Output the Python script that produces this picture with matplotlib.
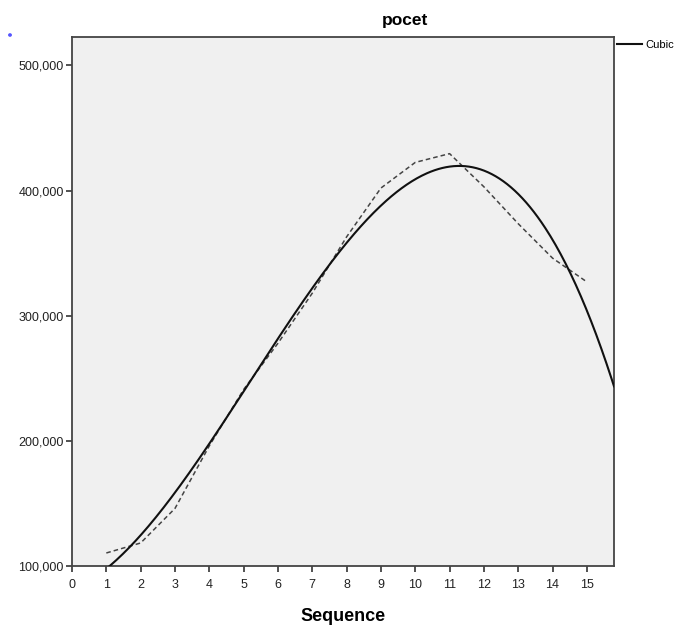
import numpy as np
import matplotlib
matplotlib.use("Agg")
import matplotlib.pyplot as plt
from matplotlib.ticker import FuncFormatter

plt.rcParams['font.family'] = ['Liberation Sans', 'DejaVu Sans']

# Observed data (Sequence vs pocet)
sequence = [1, 2, 3, 4, 5, 6, 7, 8, 9, 10, 11, 12, 13, 14, 15]
pocet = [110400, 118400, 146000, 196000, 241000, 278000, 318000, 363000,
         402000, 422500, 429500, 403000, 373500, 346000, 327000]
x_ticks = list(range(0, 16))
y_ticks = [100000, 200000, 300000, 400000, 500000]

x_max = 15.79
y_min, y_max = 100000, 522700

fig = plt.figure(figsize=(6.81, 6.26), dpi=100)
ax = fig.add_axes([72/681, 1-566/626, (614-72)/681, (566-37)/626])
ax.set_facecolor('#F0F0F0')

# Cubic fit
coef = np.polyfit(sequence, pocet, 3)
xs = np.linspace(1, x_max, 400)
ax.plot(xs, np.polyval(coef, xs), color='#111111', lw=1.5, label='Cubic', zorder=3)
ax.plot(sequence, pocet, color='#444444', lw=1.1, linestyle=(0, (3, 2)), zorder=2)

ax.set_xlim(0, x_max)
ax.set_ylim(y_min, y_max)
ax.set_xticks(x_ticks)
ax.set_yticks(y_ticks)
ax.yaxis.set_major_formatter(FuncFormatter(lambda v, p: f"{int(v):,}"))
ax.tick_params(axis='both', direction='out', length=4.5, width=1.2, color='#333333',
               labelsize=9, labelcolor='#222222')
ax.tick_params(axis='x', pad=5)
ax.tick_params(axis='y', pad=1.5)
for s in ax.spines.values():
    s.set_color('#444444')
    s.set_linewidth(1.3)

ax.set_xlabel('Sequence', fontsize=13, fontweight='bold', labelpad=12)
fig.text(405/681, 1-20/626, 'pocet', ha='center', va='center', fontsize=12.5, fontweight='bold')

leg = ax.legend(loc='center left', bbox_to_anchor=(617/681, 1-45/626),
                bbox_transform=fig.transFigure, frameon=False,
                fontsize=8, handlelength=2.25, handletextpad=0.3,
                borderaxespad=0, borderpad=0)

fig.patches.append(plt.Circle((10/681, 1-35/626), 0.0018, transform=fig.transFigure,
                              color='#5555ff', figure=fig))

fig.savefig('out.png', dpi=100, facecolor='white')
